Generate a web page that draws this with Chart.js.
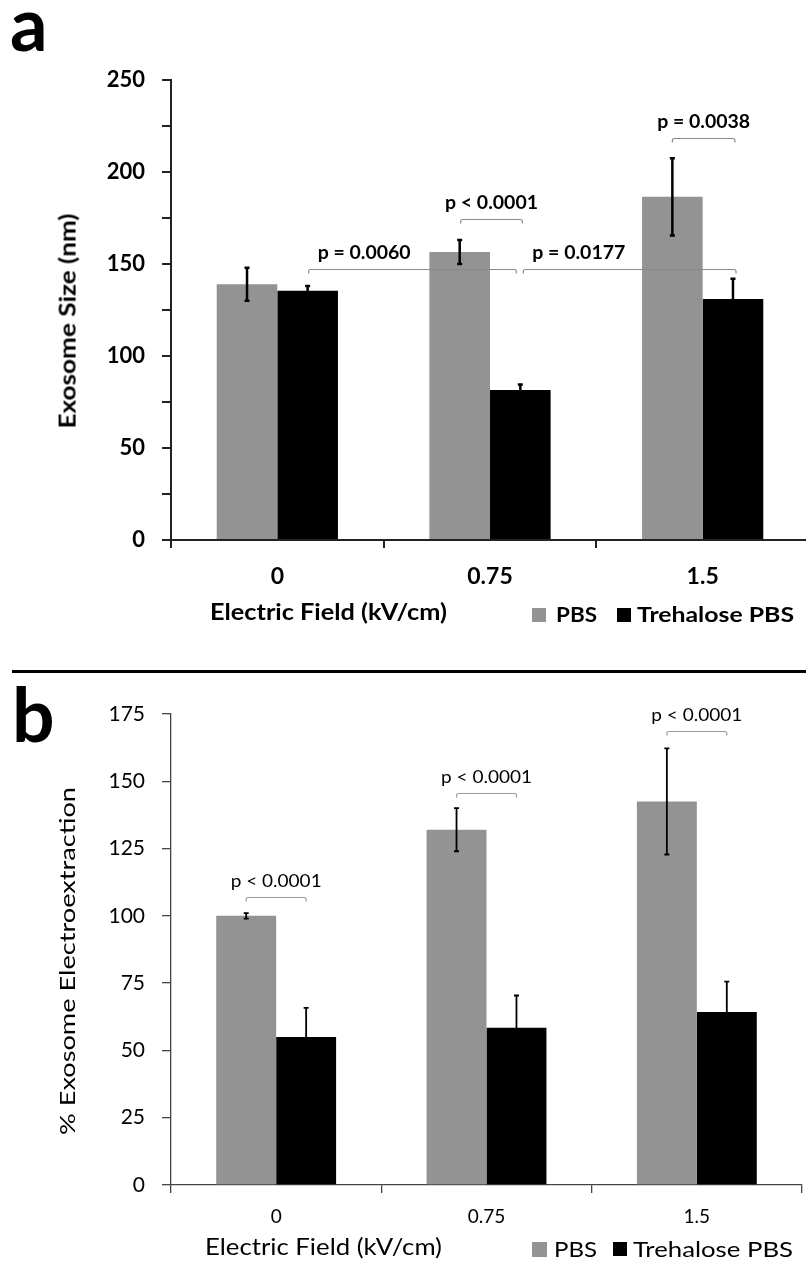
<!DOCTYPE html>
<html>
<head>
<meta charset="utf-8">
<title>Exosome size and electroextraction</title>
<script src="https://cdn.jsdelivr.net/npm/chart.js@4.4.1/dist/chart.umd.min.js"></script>
<style>
  html, body { margin: 0; padding: 0; background: #fff; }
  body { width: 806px; height: 1265px; overflow: hidden; position: relative; font-family: Lato, "Open Sans", sans-serif; color: #000; }
  .panel { position: absolute; left: 0; }
  .panel canvas { display: block; }
  .txt { position: absolute; white-space: nowrap; line-height: 1; transform-origin: 0 0; }
  .sq { position: absolute; }
  #rule { position: absolute; left: 12px; top: 670px; width: 794px; height: 3px; background: #000; }
</style>
</head>
<body>
<div class="panel" style="top:0"><canvas id="chartA" width="812" height="640"></canvas></div>
<div class="panel" style="top:640px"><canvas id="chartB" width="806" height="625"></canvas></div>
<div id="rule"></div>
<script>
// ===============================
//  Data
// ===============================
const fields = ["0", "0.75", "1.5"];
const seriesNames = ["PBS", "Trehalose PBS"];
const seriesColors = ["#939393", "#000000"];

// panel a - exosome size (nm)
const sizePBS = [139, 156.5, 186.5];
const sizePBSErr = [9, 6.5, 21];
const sizeTre = [135.5, 81.5, 131];
const sizeTreErr = [2.5, 3, 11];
const sizeTicks = [0, 50, 100, 150, 200, 250];
// comparisons: [series, category] -> [series, category]
const sizePairs = [[[1, 0], [1, 1]], [[1, 1], [1, 2]], [[0, 1], [1, 1]], [[0, 2], [1, 2]]];
const sizeLevels = [147.3, 147.3, 174.5, 218.5];
const sizeP = ["p = 0.0060", "p = 0.0177", "p < 0.0001", "p = 0.0038"];

// panel b - % exosome electroextraction
const extrPBS = [100, 132, 142.5];
const extrPBSErr = [1, 8, 19.7];
const extrTre = [55, 58.4, 64.3];
const extrTreErr = [10.8, 12, 11.3];
const extrTicks = [0, 25, 50, 75, 100, 125, 150, 175];
const extrPairs = [[[0, 0], [1, 0]], [[0, 1], [1, 1]], [[0, 2], [1, 2]]];
const extrLevels = [107, 145.7, 168.8];
const extrP = ["p < 0.0001", "p < 0.0001", "p < 0.0001"];

Chart.defaults.font.family = "Lato, 'Open Sans', sans-serif";
Chart.defaults.color = "#000";

// error bars + significance brackets
const barExtras = {
    id: "barExtras",
    afterDatasetsDraw(chart, args, o) {
        const ctx = chart.ctx;
        const y = chart.scales.y;
        const xOf = (s, c) => chart.getDatasetMeta(s).data[c].x;

        ctx.save();
        ctx.strokeStyle = o.errColor;
        ctx.lineWidth = o.errWidth;
        chart.data.datasets.forEach((ds, s) => {
            chart.getDatasetMeta(s).data.forEach((bar, c) => {
                const hi = y.getPixelForValue(ds.data[c] + ds.err[c]);
                const lo = y.getPixelForValue(ds.data[c] - ds.err[c]);
                ctx.beginPath();
                ctx.moveTo(bar.x, hi); ctx.lineTo(bar.x, lo);
                ctx.moveTo(bar.x - o.cap, hi); ctx.lineTo(bar.x + o.cap, hi);
                ctx.moveTo(bar.x - o.cap, lo); ctx.lineTo(bar.x + o.cap, lo);
                ctx.stroke();
            });
        });
        ctx.restore();

        o.pairs.forEach((p, i) => {
            const trim = o.trim[i] || [0, 0];
            const x1 = xOf(p[0][0], p[0][1]) + trim[0];
            const x2 = xOf(p[1][0], p[1][1]) + trim[1];
            const yy = Math.round(y.getPixelForValue(o.levels[i])) + 0.5;
            ctx.save();
            ctx.strokeStyle = o.bracketColor;
            ctx.lineWidth = 1.2;
            ctx.beginPath();
            ctx.moveTo(x1, yy + o.drop);
            ctx.arcTo(x1, yy, x1 + 3, yy, 2);
            ctx.lineTo(x2 - 3, yy);
            ctx.arcTo(x2, yy, x2, yy + o.drop, 2);
            ctx.lineTo(x2, yy + o.drop);
            ctx.stroke();

            ctx.font = o.font;
            ctx.fillStyle = "#000";
            ctx.textBaseline = "alphabetic";
            const w = ctx.measureText(o.labels[i]).width;
            const k = o.textWidth / w;
            const left = o.align[i] === "start" ? x1 + 9 : (x1 + x2) / 2 - o.textWidth / 2;
            ctx.translate(left, yy - 11);
            ctx.scale(k, 1);
            ctx.textAlign = "left";
            ctx.fillText(o.labels[i], 0, 0);
            ctx.restore();
        });
    }
};

function makeChart(id, c) {
    return new Chart(document.getElementById(id), {
        type: "bar",
        data: {
            labels: fields,
            datasets: [
                { label: seriesNames[0], data: c.pbs, err: c.pbsErr, backgroundColor: seriesColors[0],
                  categoryPercentage: 0.57, barPercentage: 1, borderWidth: 0 },
                { label: seriesNames[1], data: c.tre, err: c.treErr, backgroundColor: seriesColors[1],
                  categoryPercentage: 0.57, barPercentage: 1, borderWidth: 0 }
            ]
        },
        options: {
            responsive: false,
            animation: false,
            events: [],
            layout: { padding: c.pad },
            plugins: {
                legend: { display: false },
                tooltip: { enabled: false },
                barExtras: c.extras
            },
            scales: {
                x: {
                    ticks: { font: { size: c.xFont, weight: c.weight }, padding: c.xPad },
                    grid: { offset: true, drawOnChartArea: false, tickLength: 8, color: c.axis, lineWidth: c.axisW },
                    border: { color: c.axis, width: c.axisW },
                    afterFit(s) { s.height = c.xHeight; }
                },
                y: {
                    min: 0,
                    max: c.ticks[c.ticks.length - 1],
                    ticks: {
                        stepSize: 25,
                        autoSkip: false,
                        maxTicksLimit: 20,
                        padding: 17,
                        font: { size: c.yFont, weight: c.weight },
                        callback: v => c.ticks.includes(v) ? v : ""
                    },
                    grid: { drawOnChartArea: false, tickLength: 9, color: c.axis, lineWidth: c.axisW },
                    border: { color: c.axis, width: c.axisW },
                    afterFit(s) { s.width = 171; }
                }
            }
        },
        plugins: [barExtras]
    });
}

makeChart("chartA", {
    pbs: sizePBS, pbsErr: sizePBSErr, tre: sizeTre, treErr: sizeTreErr, ticks: sizeTicks,
    pad: { top: 80, right: 3, left: 0, bottom: 0 }, xHeight: 100,
    weight: "bold", xFont: 23, yFont: 22, xPad: 15, axis: "#222", axisW: 2,
    extras: {
        pairs: sizePairs, levels: sizeLevels, labels: sizeP,
        trim: [[1, -4], [3, 3], [1, 2], [0, 2]],
        align: ["start", "start", "center", "center"],
        font: "bold 18px Lato", textWidth: 93,
        errColor: "#000", errWidth: 2.5, cap: 2.5,
        bracketColor: "#8a8a8a", drop: 4
    }
});

makeChart("chartB", {
    pbs: extrPBS, pbsErr: extrPBSErr, tre: extrTre, treErr: extrTreErr, ticks: extrTicks,
    pad: { top: 74, right: 4, left: 0, bottom: 0 }, xHeight: 80,
    weight: "normal", xFont: 19, yFont: 21, xPad: 12, axis: "#444", axisW: 1.3,
    extras: {
        pairs: extrPairs, levels: extrLevels, labels: extrP,
        trim: [],
        align: ["center", "center", "center"],
        font: "18px Lato", textWidth: 91,
        errColor: "#000", errWidth: 1.8, cap: 2.5,
        bracketColor: "#9a9a9a", drop: 4
    }
});

// ===============================
//  Text overlays: panel letters, axis titles, legend
// ===============================
function addText(txt, x, base, size, weight, width, align) {
    const el = document.createElement("div");
    el.className = "txt";
    el.textContent = txt;
    el.style.fontSize = size + "px";
    el.style.fontWeight = weight;
    document.body.appendChild(el);
    const w0 = el.getBoundingClientRect().width;
    const k = width ? width / w0 : 1;
    const left = align === "center" ? x - (w0 * k) / 2 : x;
    el.style.left = left + "px";
    el.style.top = (base - 0.887 * size) + "px";
    el.style.transform = "scaleX(" + k + ")";
}

function addVText(txt, cx, cy, size, weight, len) {
    const el = document.createElement("div");
    el.className = "txt";
    el.textContent = txt;
    el.style.fontSize = size + "px";
    el.style.fontWeight = weight;
    el.style.transformOrigin = "50% 50%";
    document.body.appendChild(el);
    const r = el.getBoundingClientRect();
    el.style.left = (cx - r.width / 2) + "px";
    el.style.top = (cy - r.height / 2) + "px";
    el.style.transform = "rotate(-90deg) scaleX(" + (len / r.width) + ")";
}

function addSquare(x, y, s, color) {
    const el = document.createElement("div");
    el.className = "sq";
    el.style.cssText = "left:" + x + "px;top:" + y + "px;width:" + s + "px;height:" + s + "px;background:" + color;
    document.body.appendChild(el);
}

// panel a
addText("a", 10, 52, 74, 700, 0, "left");
addVText("Exosome Size (nm)", 67.5, 320.5, 22, 700, 215);
addText("Electric Field (kV/cm)", 328.5, 620, 23, 700, 237, "center");
addSquare(532, 608, 14, seriesColors[0]);
addText(seriesNames[0], 556, 622, 21, 700, 41, "left");
addSquare(617, 608, 14, seriesColors[1]);
addText(seriesNames[1], 637, 622, 21, 700, 157, "left");

// panel b
addText("b", 12, 743, 75, 700, 0, "left");
addVText("% Exosome Electroextraction", 67, 961, 22, 400, 348);
addText("Electric Field (kV/cm)", 323.5, 1255, 23, 400, 237, "center");
addSquare(532, 1242, 15, seriesColors[0]);
addText(seriesNames[0], 554, 1257, 21, 400, 43, "left");
addSquare(613, 1242, 14, seriesColors[1]);
addText(seriesNames[1], 633, 1257, 21, 400, 160, "left");
</script>
</body>
</html>
